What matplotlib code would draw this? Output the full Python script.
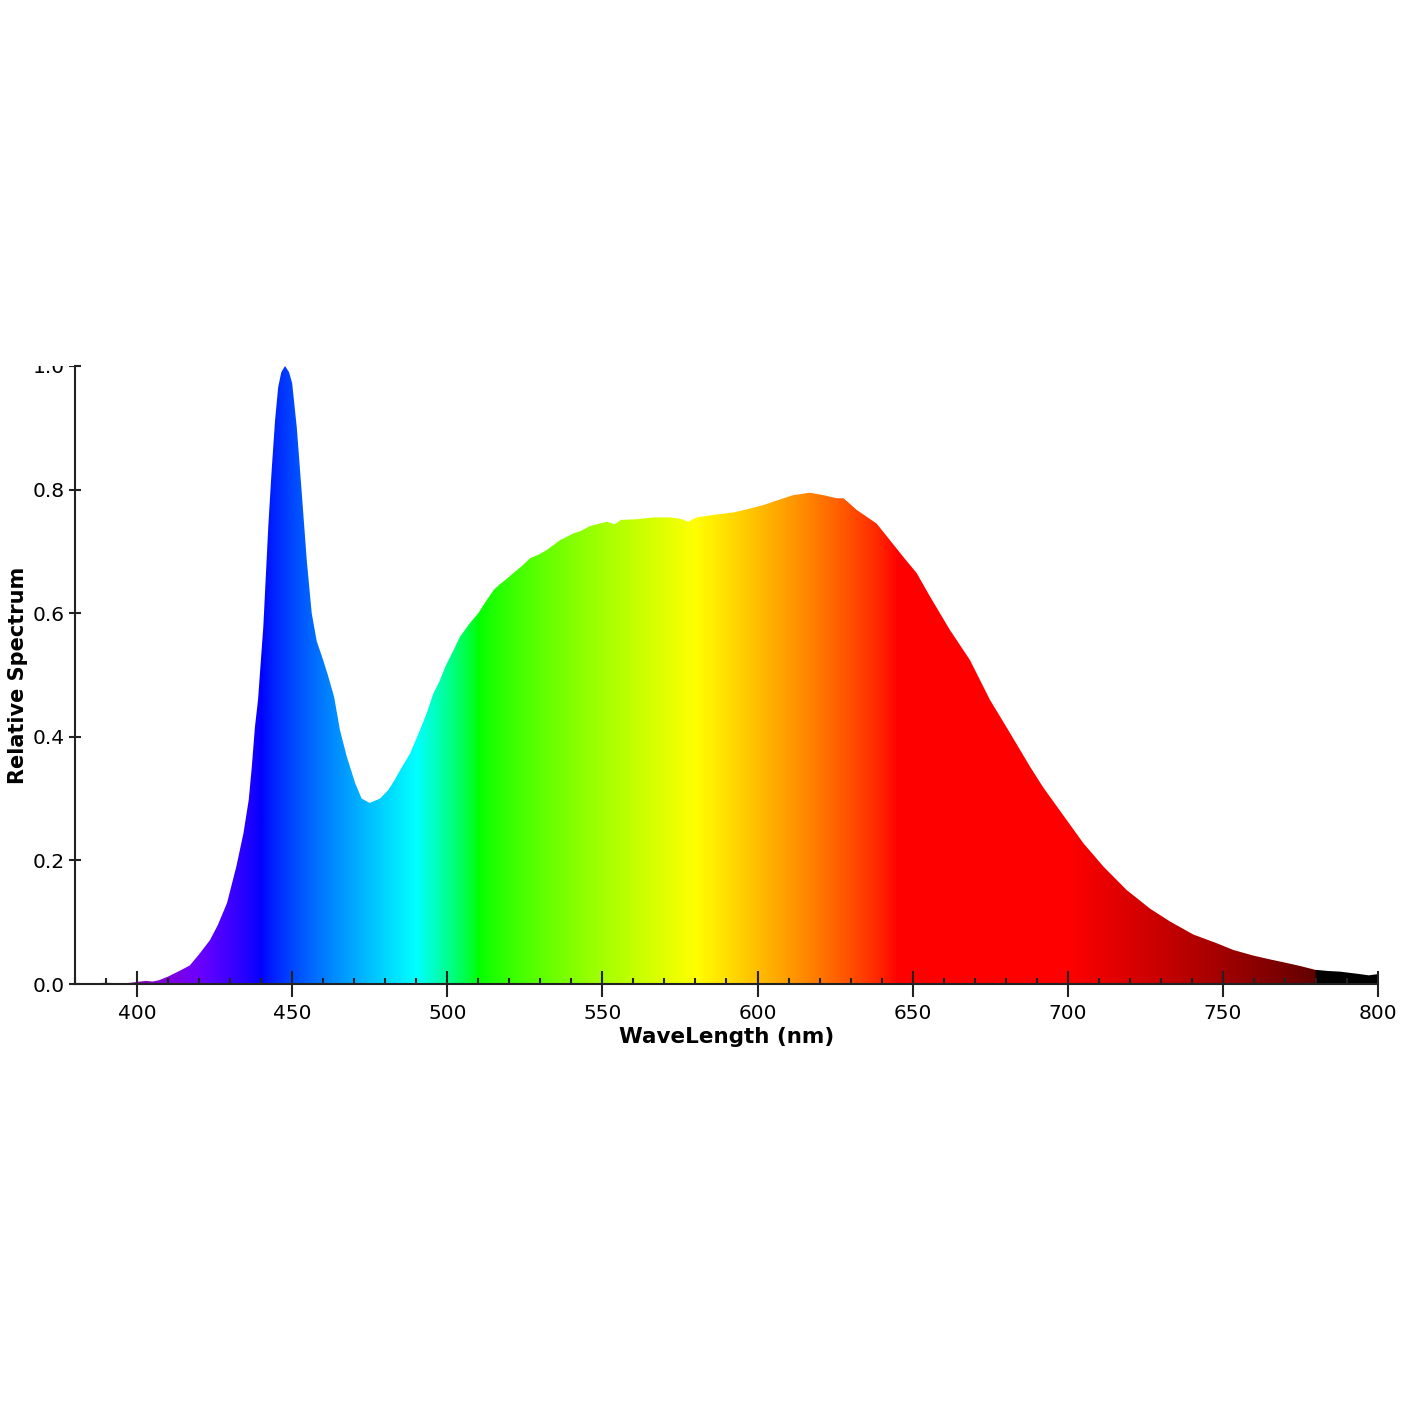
import numpy as np
import matplotlib
matplotlib.use("Agg")
import matplotlib.pyplot as plt
from matplotlib.patches import Polygon, Rectangle
from matplotlib.ticker import MultipleLocator

# spectrum (nm, relative)
wavelength = [380, 385, 390, 395, 398, 401, 403, 405, 407, 410, 414, 417, 420,
              423.5, 426, 429, 432, 434.3, 436, 437, 438, 439, 440.7, 442.3,
              443.4, 444.5, 445.5, 446.5, 447.7, 449, 450, 451.5, 453.1, 454.7,
              456.3, 457.9, 460, 461.5, 463.5, 465.4, 467.6, 470.3, 472.4, 475,
              478.3, 481, 483, 484.8, 488, 491.2, 493.5, 495.5, 497.5, 499.5,
              502, 504.1, 507.3, 510, 512.7, 515, 517, 519, 521.3, 524, 526.7,
              529.5, 532, 536.3, 540.6, 543, 546, 551.4, 554, 556, 561, 566.4,
              571.8, 575, 577.7, 580.4, 585.7, 592.2, 596.5, 601.9, 607.2,
              611.5, 616.9, 621.2, 625.5, 627.7, 630, 632, 635.2, 638.4, 642.7,
              647, 651.3, 655.6, 662, 668.5, 674.9, 681.4, 687.8, 692.1, 699.7,
              705, 711.5, 719, 726.5, 733, 740.5, 748, 753.4, 759.8, 765, 770.6,
              775, 779.7, 784, 787.8, 791, 794.2, 797, 800]
intensity = [0.000, 0.001, 0.002, 0.001, 0.002, 0.004, 0.005, 0.004, 0.006,
             0.012, 0.022, 0.030, 0.048, 0.071, 0.095, 0.131, 0.190, 0.244,
             0.298, 0.352, 0.416, 0.460, 0.578, 0.740, 0.832, 0.913, 0.966,
             0.990, 1.000, 0.990, 0.972, 0.900, 0.794, 0.686, 0.600, 0.555,
             0.524, 0.500, 0.465, 0.411, 0.368, 0.325, 0.300, 0.293, 0.300,
             0.314, 0.330, 0.346, 0.373, 0.411, 0.440, 0.470, 0.490, 0.515,
             0.540, 0.562, 0.584, 0.600, 0.621, 0.638, 0.647, 0.655, 0.665,
             0.676, 0.689, 0.695, 0.702, 0.718, 0.729, 0.733, 0.741, 0.748,
             0.744, 0.751, 0.752, 0.755, 0.755, 0.753, 0.748, 0.755, 0.759,
             0.763, 0.768, 0.775, 0.784, 0.791, 0.795, 0.791, 0.786, 0.786,
             0.776, 0.767, 0.756, 0.745, 0.718, 0.691, 0.665, 0.627, 0.573,
             0.524, 0.460, 0.406, 0.352, 0.318, 0.265, 0.228, 0.190, 0.152,
             0.122, 0.101, 0.080, 0.066, 0.055, 0.046, 0.040, 0.034, 0.029,
             0.023, 0.021, 0.020, 0.018, 0.016, 0.014, 0.016]


def wl_to_rgb(w, gamma=0.8):
    # classic visible-spectrum approximation
    if 380 <= w < 440:
        r, g, b = -(w - 440) / 60, 0.0, 1.0
    elif 440 <= w < 490:
        r, g, b = 0.0, (w - 440) / 50, 1.0
    elif 490 <= w < 510:
        r, g, b = 0.0, 1.0, -(w - 510) / 20
    elif 510 <= w < 580:
        r, g, b = (w - 510) / 70, 1.0, 0.0
    elif 580 <= w < 645:
        r, g, b = 1.0, -(w - 645) / 65, 0.0
    elif 645 <= w <= 780:
        r, g, b = 1.0, 0.0, 0.0
    else:
        r, g, b = 0.0, 0.0, 0.0
    if 380 <= w < 420:
        f = 0.3 + 0.7 * (w - 380) / 40
    elif 420 <= w <= 700:
        f = 1.0
    elif 700 < w <= 780:
        f = 0.3 + 0.7 * (780 - w) / 80
    else:
        f = 0.0
    return [(c * f) ** gamma for c in (r, g, b)]


fig = plt.figure(figsize=(14.2, 14.2), dpi=100)
ax = fig.add_axes([75 / 1420, 1 - 984 / 1420, (1378 - 75) / 1420, (984 - 366) / 1420])

grid = np.linspace(380, 800, 1400)
grad = np.array([[wl_to_rgb(w) for w in grid]])
im = ax.imshow(grad, extent=[380, 800, 0, 1], aspect="auto", interpolation="bilinear", zorder=1)

verts = [(380, 0)] + list(zip(wavelength, intensity)) + [(800, 0)]
shape = Polygon(verts, closed=True, facecolor="none", edgecolor="none", transform=ax.transData)
ax.add_patch(shape)
im.set_clip_path(shape)

ax.set_xlim(380, 800)
ax.set_ylim(0, 1)

for s in ["top", "right"]:
    ax.spines[s].set_visible(False)
for s in ["left", "bottom"]:
    ax.spines[s].set_linewidth(1.5)
    ax.spines[s].set_color("#222222")
    ax.spines[s].set_zorder(3)

ax.xaxis.set_major_locator(MultipleLocator(50))
ax.xaxis.set_minor_locator(MultipleLocator(10))
ax.yaxis.set_major_locator(MultipleLocator(0.2))
ax.yaxis.set_major_formatter(matplotlib.ticker.FormatStrFormatter("%.1f"))

ax.tick_params(axis="x", which="major", direction="inout", length=19, width=1.5,
               color="#222222", labelsize=14.5, pad=5)
ax.tick_params(axis="x", which="minor", direction="in", length=4, width=1.5, color="#222222")
ax.tick_params(axis="y", which="major", direction="inout", length=9, width=1.5,
               color="#222222", labelsize=14.5, pad=3)

ax.set_xlabel("WaveLength (nm)", fontsize=15.5, fontweight="bold", labelpad=3)
ax.set_ylabel("Relative Spectrum", fontsize=15, fontweight="bold", labelpad=3)

# top of the 1.0 label is cut off in the reference
top = 1 - 366 / 1420
fig.patches.append(Rectangle((0, top), 75 / 1420 - 0.001, 1 - top, transform=fig.transFigure,
                             facecolor="white", edgecolor="none", zorder=10))

fig.savefig("out.png", dpi=100, facecolor="white")
